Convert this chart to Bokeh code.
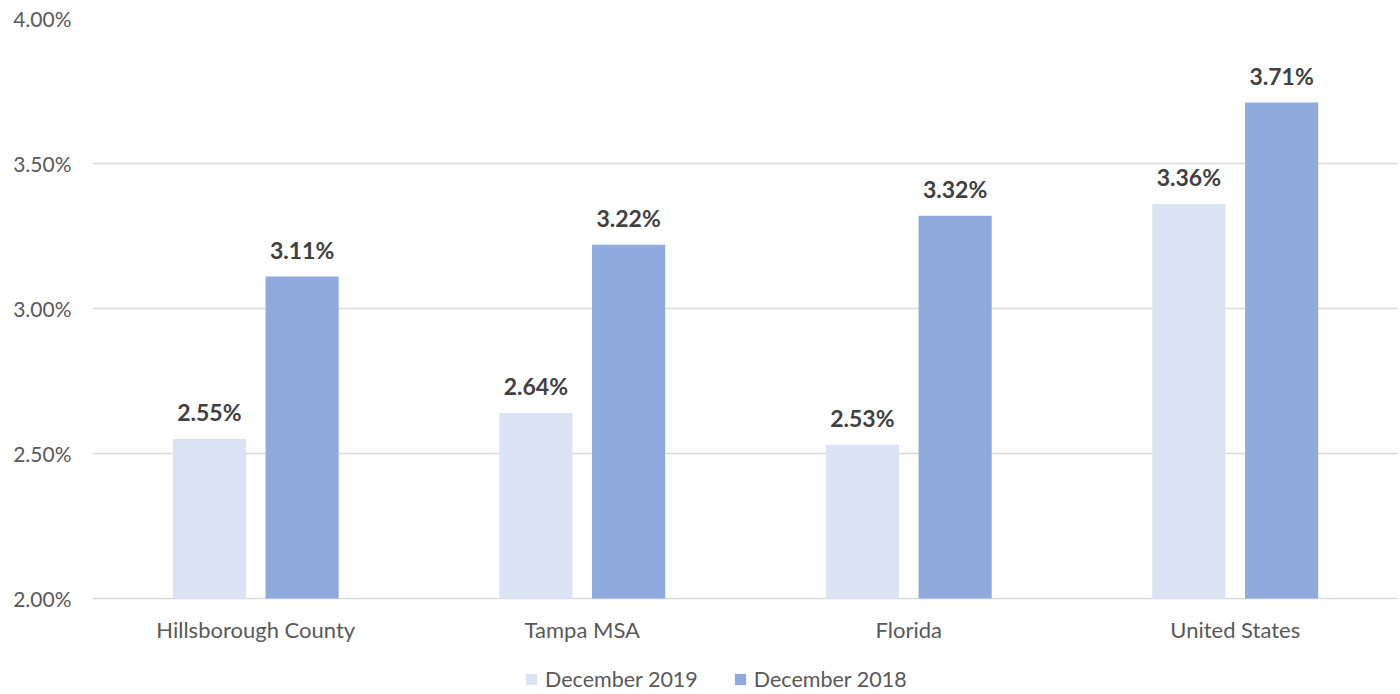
from bokeh.plotting import figure
from bokeh.models import ColumnDataSource, FactorRange, Range1d, PrintfTickFormatter, Legend, LegendItem, LabelSet
from bokeh.core.properties import value
from bokeh.transform import dodge
from bokeh.embed import file_html
from bokeh.resources import INLINE

categories = ["Hillsborough County", "Tampa MSA", "Florida", "United States"]
dec_2019 = [2.55, 2.64, 2.53, 3.36]
dec_2018 = [3.11, 3.22, 3.32, 3.71]
series_names = ["December 2019", "December 2018"]
y_ticks = [2.0, 2.5, 3.0, 3.5, 4.0]
y_min, y_max = 2.0, 4.0

FONT = "Lato"
LIGHT = "#DAE3F3"
DARK = "#8FAADC"
GRID = "#D9D9D9"
TXT = "#595959"

src = ColumnDataSource(dict(
    cat=categories,
    d19=dec_2019,
    d18=dec_2018,
    base=[y_min] * len(categories),
    l19=[f"{v:.2f}%" for v in dec_2019],
    l18=[f"{v:.2f}%" for v in dec_2018],
))

W, H = 1398, 692
TOP, LEFT = 18, 92
AXIS_Y = 598  # pixel row of the baseline (2.00%)
px_per_unit = (AXIS_Y - TOP) / (y_max - y_min)
y_start = y_min - (H - AXIS_Y) / px_per_unit

p = figure(x_range=FactorRange(*categories, range_padding=0), y_range=Range1d(y_start, y_max),
           width=W, height=H, output_backend="svg", toolbar_location=None,
           min_border_left=LEFT, min_border_right=0, min_border_top=TOP, min_border_bottom=0)
p.outline_line_color = None
p.background_fill_color = "white"
p.border_fill_color = "white"

bw = 0.224
off = 0.142
r1 = p.vbar(x=dodge("cat", -off, range=p.x_range), top="d19", bottom="base", width=bw, source=src,
            fill_color=LIGHT, line_color=None)
r2 = p.vbar(x=dodge("cat", off, range=p.x_range), top="d18", bottom="base", width=bw, source=src,
            fill_color=DARK, line_color=None)

for xcol, ycol, lcol in [(-off, "d19", "l19"), (off, "d18", "l18")]:
    ls = LabelSet(x=dodge("cat", xcol, range=p.x_range), y=ycol, text=lcol, source=src,
                  text_align="center", text_baseline="alphabetic", y_offset=18,
                  text_font=value(FONT), text_font_style="bold", text_font_size="23px",
                  text_color="#404040")
    p.add_layout(ls)

# category labels under the baseline
cat_labels = LabelSet(x="cat", y="base", text="cat", source=src,
                      text_align="center", text_baseline="alphabetic", y_offset=-39,
                      text_font=value(FONT), text_font_size="22px", text_color=TXT)
p.add_layout(cat_labels)

p.xaxis.visible = False

p.yaxis.ticker = y_ticks
p.yaxis.formatter = PrintfTickFormatter(format="%.2f%%")
p.yaxis.axis_line_color = None
p.yaxis.major_tick_line_color = None
p.yaxis.minor_tick_line_color = None
p.yaxis.major_tick_out = 0
p.yaxis.minor_tick_out = 0
p.yaxis.major_label_text_font = FONT
p.yaxis.major_label_text_font_size = "21px"
p.yaxis.major_label_text_color = TXT
p.yaxis.major_label_standoff = 21

p.xgrid.grid_line_color = None
p.ygrid.ticker = y_ticks
p.ygrid.grid_line_color = GRID
p.ygrid.grid_line_width = 1.5

legend = Legend(items=[LegendItem(label=series_names[0], renderers=[r1]),
                       LegendItem(label=series_names[1], renderers=[r2])],
                orientation="horizontal", location=(432, 0),
                label_text_font=FONT, label_text_font_size="21.5px", label_text_color=TXT,
                label_height=21,
                glyph_width=14, glyph_height=14, label_standoff=7, spacing=35,
                padding=0, margin=0, border_line_color=None, background_fill_alpha=0)
p.add_layout(legend, "center")

open("out.html", "w").write(file_html(p, INLINE))
